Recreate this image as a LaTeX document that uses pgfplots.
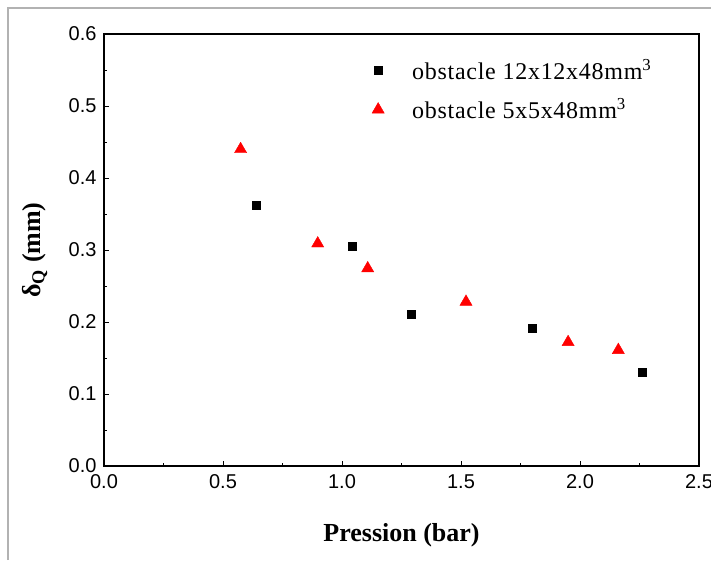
\documentclass[border=0pt]{standalone}
\usepackage{pgfplots}
\pgfplotsset{compat=1.18}
\usepackage{fontspec}
\setmainfont{Liberation Serif}
\setsansfont{Liberation Sans}
\newfontfamily\legfont[LetterSpace=3]{Liberation Serif}
\definecolor{pred}{RGB}{255,0,0}
\begin{document}
\begin{tikzpicture}
\useasboundingbox (0pt,0pt) rectangle (711pt,560pt);
\draw[gray!60, line width=1.2pt] (8pt,0pt) -- (8pt,552pt) -- (711pt,552pt);
\begin{axis}[
  at={(104pt,94pt)}, anchor=south west,
  scale only axis, width=595pt, height=432pt,
  xmin=0, xmax=2.5, ymin=0, ymax=0.6,
  xtick={0,0.5,1,1.5,2,2.5}, ytick={0,0.1,0.2,0.3,0.4,0.5,0.6},
  minor x tick num=1, minor y tick num=1,
  tick align=inside, xtick pos=bottom, ytick pos=left,
  major tick length=5pt, minor tick length=3pt,
  axis line style={line width=1.2pt},
  every tick/.style={black, line width=1pt},
  /pgf/number format/.cd, fixed, fixed zerofill, precision=1, assume math mode=true,
  /pgfplots/.cd,
  ticklabel style={font=\sffamily\fontsize{20}{20}\selectfont},
  xticklabel style={yshift=-5pt},
  yticklabel style={xshift=-4pt},
  xlabel={\textbf{Pression (bar)}},
  xlabel style={font=\fontsize{26}{30}\selectfont, at={(axis description cs:0.5,-0.16)}, anchor=center},
  ylabel={\textbf{δ\textsubscript{Q} (mm)}},
  ylabel style={font=\fontsize{26}{30}\selectfont, at={(axis description cs:-0.116,0.5)}, anchor=center},
  legend style={draw=none, fill=none, at={(axis cs:1.113,0.571)}, anchor=north west,
    font=\legfont\fontsize{24}{28}\selectfont, row sep=14pt, column sep=26pt},
  legend cell align=left,
]
\addplot[only marks, mark=square*, mark size=4pt, black] coordinates {
(0.639,0.3625) (1.041,0.3046) (1.289,0.211) (1.798,0.192) (2.261,0.1306)};
\addlegendentry{obstacle 12x12x48mm\textsuperscript{3}}
\addplot[only marks, mark=triangle*, mark size=7pt, pred] coordinates {
(0.574,0.440) (0.898,0.309) (1.108,0.2745) (1.521,0.228) (1.95,0.172) (2.161,0.161)};
\addlegendentry{obstacle 5x5x48mm\textsuperscript{3}}
\end{axis}
\end{tikzpicture}
\end{document}
